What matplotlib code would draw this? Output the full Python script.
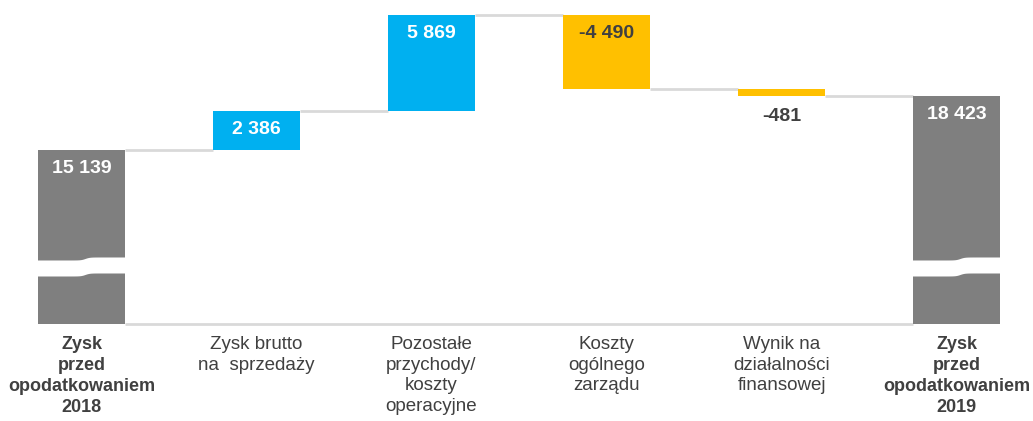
import numpy as np
import matplotlib.pyplot as plt

plt.rcParams['font.family'] = ['Liberation Sans', 'DejaVu Sans']

# --- dane ---
kategorie = ["Zysk\nprzed\nopodatkowaniem\n2018",
             "Zysk brutto\nna  sprzedaży",
             "Pozostałe\nprzychody/\nkoszty\noperacyjne",
             "Koszty\nogólnego\nzarządu",
             "Wynik na\ndziałalności\nfinansowej",
             "Zysk\nprzed\nopodatkowaniem\n2019"]
wartosci = [15139, 2386, 5869, -4490, -481, 18423]
etykiety = ["15 139", "2 386", "5 869", "-4 490", "-481", "18 423"]
typ = ["total", "delta", "delta", "delta", "delta", "total"]

baza = 4500  # poczatek osi (os przerwana)
przerwa = (7414, 8395)  # dolna / gorna krawedz przerwy po lewej stronie
skok = 184

SZARY = "#7f7f7f"
NIEBIESKI = "#00b0f0"
ZOLTY = "#ffc000"
LINIA = "#d9d9d9"
TEKST = "#404040"

fig = plt.figure(figsize=(10.33, 4.21), dpi=100)
ax = fig.add_axes([0, 0, 1, 1])
ax.set_xlim(-0.466, 5.437)
ax.set_ylim(-1477, 24336)
ax.axis("off")

szer = 0.5
x = np.arange(len(wartosci))

# dolna linia osi
ax.hlines(baza, x[0] + szer / 2, x[-1] - szer / 2, color=LINIA, lw=2, zorder=1)

suma = 0
poziomy = []
for i, (v, t) in enumerate(zip(wartosci, typ)):
    if t == "total":
        dol, gora = baza, v
        kolor = SZARY
        suma = v
    else:
        start = suma
        suma = suma + v
        dol, gora = min(start, suma), max(start, suma)
        kolor = NIEBIESKI if v > 0 else ZOLTY
    ax.bar(x[i], gora - dol, bottom=dol, width=szer, color=kolor, zorder=2)
    poziomy.append(suma)

    if t == "total" or v > 0:
        ax.annotate(etykiety[i], (x[i], gora), xytext=(0, -7), textcoords="offset points",
                    ha="center", va="top", fontsize=14, fontweight="bold", color="white", zorder=4)
    elif gora - dol > 2000:
        ax.annotate(etykiety[i], (x[i], gora), xytext=(0, -7), textcoords="offset points",
                    ha="center", va="top", fontsize=14, fontweight="bold", color=TEKST, zorder=4)
    else:
        ax.annotate(etykiety[i], (x[i], dol), xytext=(0, -8), textcoords="offset points",
                    ha="center", va="top", fontsize=14, fontweight="bold", color=TEKST, zorder=4)

# linie laczace
for i in range(len(wartosci) - 1):
    ax.hlines(poziomy[i], x[i] + szer / 2, x[i + 1] - szer / 2, color=LINIA, lw=2, zorder=1)

# znaczniki przerwy osi na slupkach sumy
for i, t in enumerate(typ):
    if t != "total":
        continue
    xx = np.linspace(x[i] - szer / 2 - 0.01, x[i] + szer / 2 + 0.01, 200)
    krok = 0.5 * (1 + np.tanh((xx - x[i] - 0.02) / 0.025)) * skok
    ax.fill_between(xx, przerwa[0] + krok, przerwa[1] + krok, color="white", lw=0, zorder=3)

# etykiety kategorii
for i, k in enumerate(kategorie):
    pogrubione = typ[i] == "total"
    ax.annotate(k, (x[i], baza), xytext=(0, -9), textcoords="offset points",
                ha="center", va="top", fontsize=13 if pogrubione else 13.5, color=TEKST,
                linespacing=1.32 if pogrubione else 1.27,
                fontweight="bold" if pogrubione else "normal")

fig.savefig("out.png", dpi=100)
